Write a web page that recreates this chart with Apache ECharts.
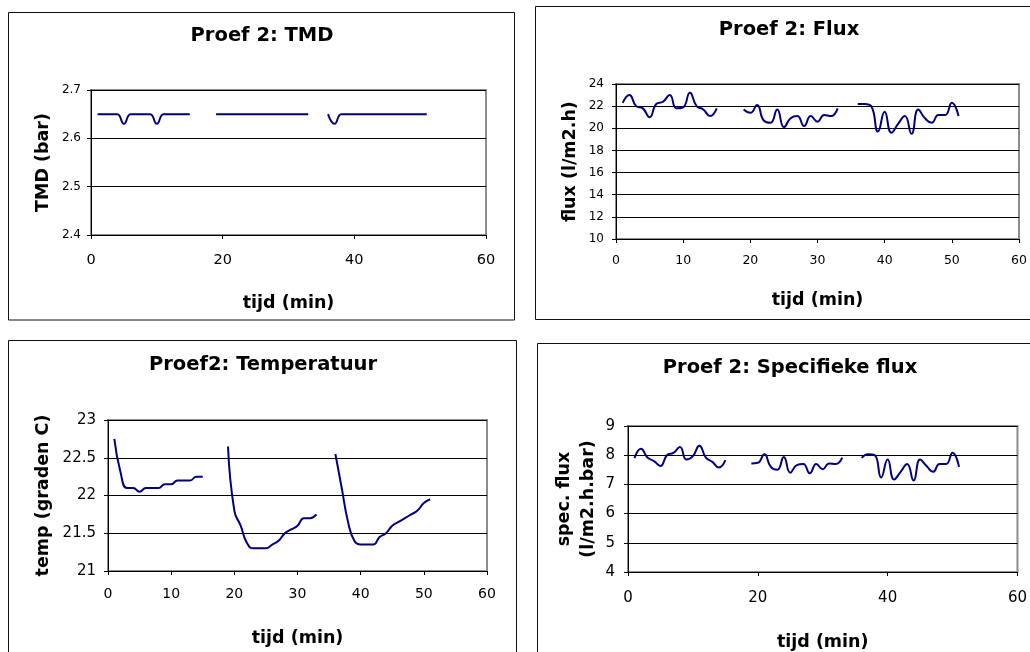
<!DOCTYPE html>
<html>
<head>
<meta charset="utf-8">
<script src="https://cdn.jsdelivr.net/npm/echarts@6/dist/echarts.min.js"></script>
<style>
  html, body { margin: 0; padding: 0; background: #fff; }
  #chart { width: 1030px; height: 652px; }
</style>
</head>
<body>
<div id="chart"></div>
<script>
// Time stamps (min) of the three measuring blocks
const tijdBlok1 = [1, 2, 3, 4, 5, 6, 7, 8, 9, 10, 11, 12, 13, 14, 15];
const tijdBlok2 = [19, 20, 21, 22, 23, 24, 25, 26, 27, 28, 29, 30, 31, 32, 33];
const tijdBlok3 = [36, 37, 38, 39, 40, 41, 42, 43, 44, 45, 46, 47, 48, 49, 50, 51];

// Transmembrane pressure (bar)
const tmd1 = [2.65, 2.65, 2.65, 2.65, 2.63, 2.65, 2.65, 2.65, 2.65, 2.63, 2.65, 2.65, 2.65, 2.65, 2.65];
const tmd2 = [2.65, 2.65, 2.65, 2.65, 2.65, 2.65, 2.65, 2.65, 2.65, 2.65, 2.65, 2.65, 2.65, 2.65, 2.65];
const tmd3 = [2.65, 2.63, 2.65, 2.65, 2.65, 2.65, 2.65, 2.65, 2.65, 2.65, 2.65, 2.65, 2.65, 2.65, 2.65, 2.65];

// Flux (l/m2.h)
const flux1 = [22.3, 23.0, 22.0, 21.8, 21.0, 22.2, 22.4, 23.0, 21.8, 21.9, 23.2, 22.0, 21.7, 21.1, 21.8];
const flux2 = [21.7, 21.4, 22.1, 20.7, 20.5, 21.7, 20.1, 20.9, 21.1, 20.2, 21.1, 20.6, 21.2, 21.1, 21.8];
const flux3 = [22.2, 22.2, 22.0, 19.7, 21.5, 19.6, 20.4, 21.1, 19.5, 21.7, 20.9, 20.5, 21.2, 21.2, 22.3, 21.1];

// Temperature (graden C)
const temp1 = [22.75, 22.3, 22.1, 22.1, 22.05, 22.1, 22.1, 22.1, 22.15, 22.15, 22.2, 22.2, 22.2, 22.25, 22.25];
const temp2 = [22.65, 21.8, 21.6, 21.37, 21.3, 21.3, 21.3, 21.35, 21.4, 21.5, 21.55, 21.6, 21.7, 21.7, 21.75];
const temp3 = [22.55, 22.1, 21.65, 21.4, 21.35, 21.35, 21.35, 21.45, 21.5, 21.6, 21.65, 21.7, 21.75, 21.8, 21.9, 21.95];

// Specific flux (l/m2.h.bar)
const spec1 = [7.9, 8.22, 7.92, 7.8, 7.63, 8.0, 8.08, 8.28, 7.85, 7.97, 8.32, 7.92, 7.77, 7.58, 7.83];
const spec2 = [7.72, 7.74, 8.03, 7.6, 7.5, 7.94, 7.4, 7.66, 7.7, 7.38, 7.7, 7.52, 7.72, 7.7, 7.92];
const spec3 = [7.91, 8.03, 8.0, 7.24, 7.85, 7.17, 7.43, 7.7, 7.13, 7.85, 7.63, 7.43, 7.7, 7.7, 8.08, 7.6];

const titels = ['Proef 2: TMD', 'Proef 2: Flux', 'Proef2: Temperatuur', 'Proef 2: Specifieke flux'];
const yTitels = ['TMD (bar)', 'flux (l/m2.h)', 'temp (graden C)', 'spec. flux\n(l/m2.h.bar)'];
const xTitel = 'tijd (min)';

const FONT = 'DejaVu Sans, Verdana, sans-serif';
const LINE = '#000080';

const panels = [
  { blocks: [tmd1, tmd2, tmd3],    grid: { left: 91,  top: 90,  width: 395, height: 145 },
    y: { min: 2.4, max: 2.7, interval: 0.1, fs: 12, margin: 10, gap: 36, fmt: v => v.toFixed(1) },
    x: { interval: 20, fs: 14.5, margin: 18, gap: 59 }, title: [262, 36] },
  { blocks: [flux1, flux2, flux3], grid: { left: 616, top: 84,  width: 403, height: 155 },
    y: { min: 10, max: 24, interval: 2, fs: 12, margin: 12, gap: 34, fmt: v => String(v) },
    x: { interval: 10, fs: 12.5, margin: 15, gap: 52 }, title: [789, 30] },
  { blocks: [temp1, temp2, temp3], grid: { left: 108, top: 420, width: 379, height: 151 },
    y: { min: 21, max: 23, interval: 0.5, fs: 15, margin: 12, gap: 53, fmt: v => String(v) },
    x: { interval: 10, fs: 14, margin: 16, gap: 58 }, title: [263, 365] },
  { blocks: [spec1, spec2, spec3], grid: { left: 628, top: 426, width: 391, height: 146 },
    y: { min: 4, max: 9, interval: 1, fs: 15, margin: 13, gap: 28, fmt: v => String(v) },
    x: { interval: 20, fs: 15, margin: 19, gap: 61 }, title: [790, 368] }
];

const tijdBlokken = [tijdBlok1, tijdBlok2, tijdBlok3];

const option = {
  backgroundColor: '#fff',
  animation: false,
  title: panels.map((p, i) => ({
    text: titels[i], left: p.title[0], top: p.title[1], padding: 0,
    textAlign: 'center', textVerticalAlign: 'middle',
    textStyle: { fontFamily: FONT, fontWeight: 'bold', fontSize: 19.5, color: '#000' }
  })),
  grid: panels.map(p => Object.assign({
    show: true, borderColor: '#8c8c8c', borderWidth: 2, backgroundColor: '#fff'
  }, p.grid)),
  xAxis: panels.map((p, i) => ({
    type: 'value', gridIndex: i, min: 0, max: 60, interval: p.x.interval,
    name: xTitel, nameLocation: 'middle', nameGap: p.x.gap,
    nameTextStyle: { fontFamily: FONT, fontWeight: 'bold', fontSize: 17.5, color: '#000' },
    axisLine: { lineStyle: { color: '#000', width: 1 } },
    axisTick: { show: true, length: 4, lineStyle: { color: '#000' } },
    axisLabel: { fontFamily: FONT, fontSize: p.x.fs, color: '#000', margin: p.x.margin },
    splitLine: { show: false }
  })),
  yAxis: panels.map((p, i) => ({
    type: 'value', gridIndex: i, min: p.y.min, max: p.y.max, interval: p.y.interval,
    name: yTitels[i], nameLocation: 'middle', nameGap: p.y.gap,
    nameTextStyle: { fontFamily: FONT, fontWeight: 'bold', fontSize: 17.5, color: '#000', lineHeight: 24 },
    axisLine: { show: true, lineStyle: { color: '#000', width: 1 } },
    axisTick: { show: true, length: 4, lineStyle: { color: '#000' } },
    axisLabel: { fontFamily: FONT, fontSize: p.y.fs, color: '#000', margin: p.y.margin, formatter: p.y.fmt },
    splitLine: { show: true, lineStyle: { color: '#000', width: 1 } }
  })),
  series: [],
  graphic: [
    { type: 'rect', shape: { x: 8.5, y: 12.5, width: 506, height: 307.5 }, style: { fill: 'none', stroke: '#111', lineWidth: 1 }, z: 100 },
    { type: 'rect', shape: { x: 535.5, y: 6.5, width: 520, height: 313 }, style: { fill: 'none', stroke: '#111', lineWidth: 1 }, z: 100 },
    { type: 'rect', shape: { x: 8.5, y: 340.5, width: 508, height: 330 }, style: { fill: 'none', stroke: '#111', lineWidth: 1 }, z: 100 },
    { type: 'rect', shape: { x: 537.5, y: 343.5, width: 520, height: 330 }, style: { fill: 'none', stroke: '#111', lineWidth: 1 }, z: 100 }
  ]
};

panels.forEach((p, i) => {
  p.blocks.forEach((vals, b) => {
    option.series.push({
      type: 'line', xAxisIndex: i, yAxisIndex: i,
      data: tijdBlokken[b].map((t, k) => [t, vals[k]]),
      smooth: 0.5, showSymbol: false, symbol: 'none',
      lineStyle: { color: LINE, width: 2 }, itemStyle: { color: LINE }
    });
  });
});

const chart = echarts.init(document.getElementById('chart'), null, { renderer: 'canvas' });
chart.setOption(option);
</script>
</body>
</html>
